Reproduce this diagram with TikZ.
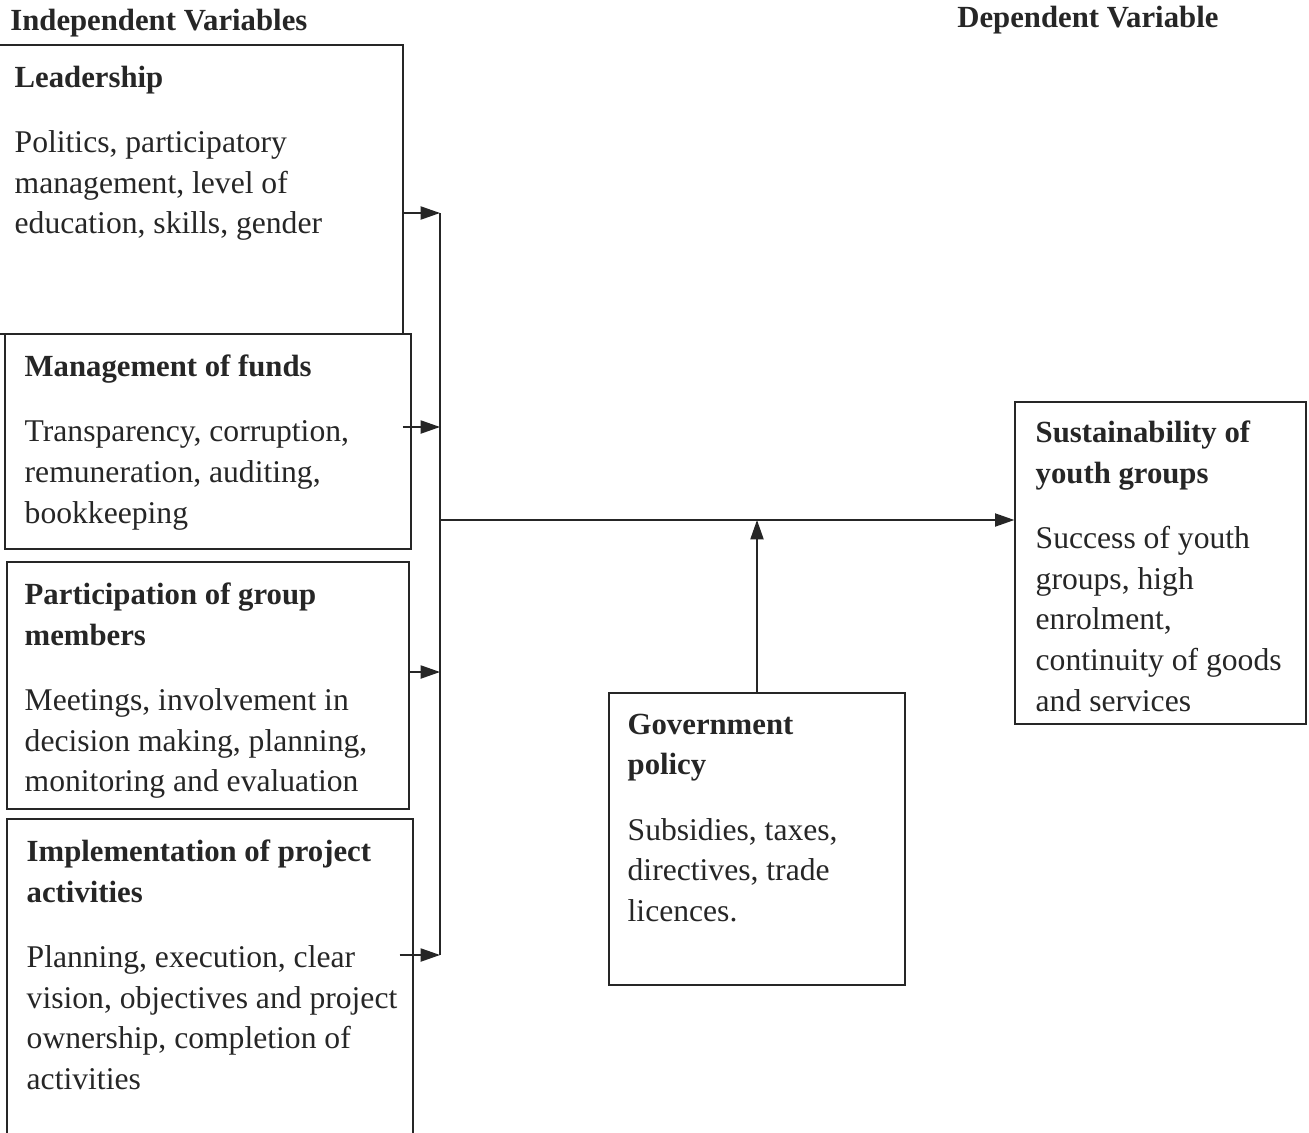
\documentclass[tikz,border=0pt]{standalone}
\usepackage{fontspec}
\setmainfont{Liberation Serif}
\usetikzlibrary{arrows.meta,calc}

\tikzset{
  varbox/.style={draw=black!85, line width=0.8pt, rectangle, inner sep=0pt},
  vartext/.style={anchor=north west, inner sep=0pt, align=left, text=black!85,
    font=\fontsize{18}{23.2}\selectfont},
  flow/.style={-{Triangle[length=11pt,width=7.5pt]}, line width=0.8pt, draw=black!85},
  heading/.style={anchor=west, inner sep=0pt, text=black!85,
    font=\fontsize{17.5}{21}\selectfont\bfseries},
}
\newcommand{\vhead}[1]{{\fontsize{17.5}{23.2}\selectfont\bfseries #1}}

\begin{document}
\begin{tikzpicture}[x=0.02cm,y=-0.02cm]
  \useasboundingbox (0,0) rectangle (1309,1133);

  % column headings
  \node[heading] (indep) at (10,23) {Independent Variables};
  \node[heading] (dep) at (957,20) {Dependent Variable};

  % independent variable boxes
  \node[varbox,minimum width=8.16cm,minimum height=5.78cm] (lead) at (199,189.5) {};
  \node[varbox,minimum width=8.12cm,minimum height=4.30cm,fill=white] (mgmt) at (208,441.5) {};
  \node[varbox,minimum width=8.04cm,minimum height=4.94cm] (part) at (208,685.5) {};
  \node[varbox,minimum width=8.12cm,minimum height=6.52cm] (impl) at (210,982) {};

  \node[vartext] (leadtxt) at ($(lead.north west)+(20,21)$)
    {\vhead{Leadership}\\[14pt]
     Politics, participatory\\management, level of\\education, skills, gender};
  \node[vartext] (mgmttxt) at ($(mgmt.north west)+(20,21)$)
    {\vhead{Management of funds}\\[14pt]
     Transparency, corruption,\\remuneration, auditing,\\bookkeeping};
  \node[vartext] (parttxt) at ($(part.north west)+(18,21)$)
    {\vhead{Participation of group}\\\vhead{members}\\[14pt]
     Meetings, involvement in\\decision making, planning,\\monitoring and evaluation};
  \node[vartext] (impltxt) at ($(impl.north west)+(20,21)$)
    {\vhead{Implementation of project}\\\vhead{activities}\\[14pt]
     Planning, execution, clear\\vision, objectives and project\\ownership, completion of\\activities};

  % intervening and dependent boxes
  \node[varbox,minimum width=5.92cm,minimum height=5.84cm] (gov) at (757,839) {};
  \node[varbox,minimum width=5.82cm,minimum height=6.44cm] (sust) at (1160.5,563) {};

  \node[vartext] (govtxt) at ($(gov.north west)+(19,21)$)
    {\vhead{Government}\\\vhead{policy}\\[14pt]
     Subsidies, taxes,\\directives, trade\\licences.};
  \node[vartext] (susttxt) at ($(sust.north west)+(21,19)$)
    {\vhead{Sustainability of}\\\vhead{youth groups}\\[14pt]
     Success of youth\\groups, high\\enrolment,\\continuity of goods\\and services};

  % collecting line
  \coordinate (b1) at (440,213);
  \coordinate (b2) at (440,427);
  \coordinate (b3) at (440,672);
  \coordinate (b4) at (440,955);
  \coordinate (join) at (440,520);

  \draw[line width=0.8pt,black!85] (b1) -- (b4);
  \draw[flow] (lead.east |- b1) -- (b1);
  \draw[flow] ([xshift=-5pt]mgmt.east |- b2) -- (b2);
  \draw[flow] (part.east |- b3) -- (b3);
  \draw[flow] ([xshift=-8pt]impl.east |- b4) -- (b4);

  \draw[flow] (join) -- (sust.west |- join);
  \draw[flow] (gov.north) -- (gov.north |- join);
\end{tikzpicture}
\end{document}
